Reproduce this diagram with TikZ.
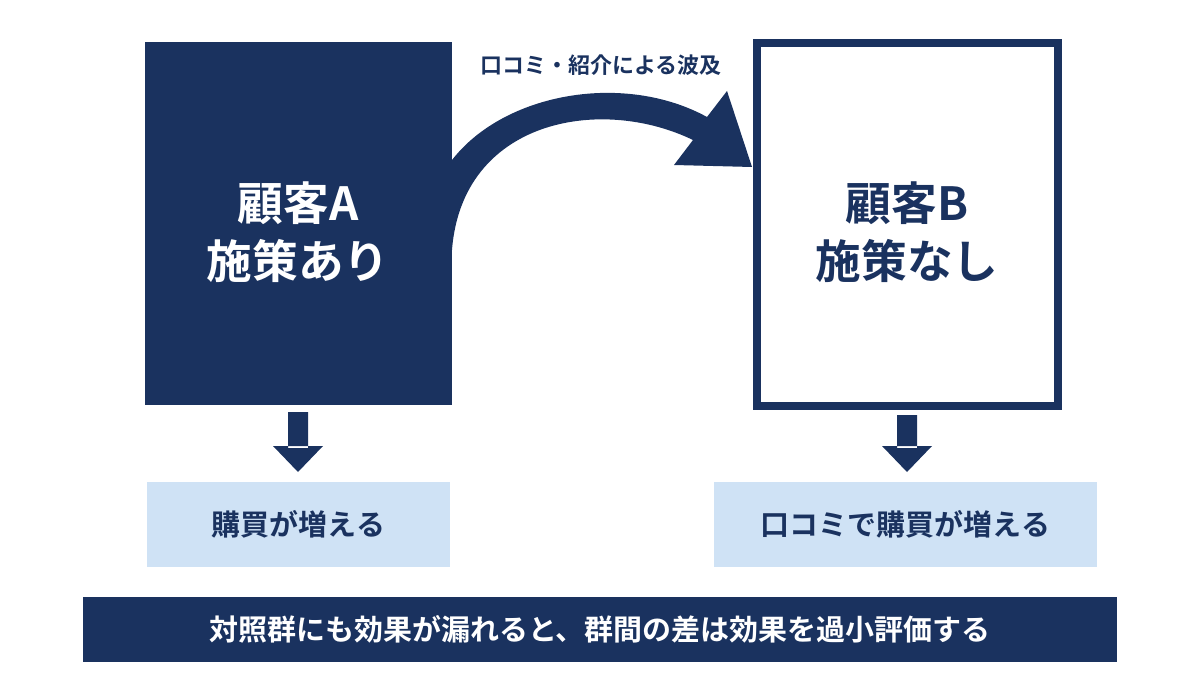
\documentclass[tikz,border=0pt]{standalone}
\usepackage{fontspec}
\setmainfont{Noto Sans CJK JP}[BoldFont={Noto Sans CJK JP Bold}]
\definecolor{navy}{HTML}{1A325F}
\definecolor{lblue}{HTML}{CFE2F5}
\begin{document}
\begin{tikzpicture}[x=0.02cm,y=-0.02cm,
  big/.style={font=\bfseries\fontsize{26}{33}\selectfont,align=center},
  mid/.style={font=\bfseries\fontsize{16.5}{20}\selectfont},
  down/.style={fill=navy}]
\useasboundingbox (0,0) rectangle (1200,675);
\fill[navy] (145,42) rectangle (452,405);
\node[big,text=white] (a) at (298,232) {顧客A\\施策あり};
\draw[navy,line width=0.16cm] (757,43) rectangle (1058,406);
\node[big,text=navy] (b) at (907,232) {顧客B\\施策なし};
\fill[navy] (452,160) .. controls (505,92) and (625,72) .. (707,117) -- (727,91) -- (752,167) -- (674,165) -- (693,140) .. controls (600,95) and (462,120) .. (452,250) -- cycle;
\node[font=\bfseries\fontsize{12.5}{15}\selectfont,text=navy] (w) at (601,65) {口コミ・紹介による波及};
\fill[navy] (288,412) rectangle (308,448) (273,446) -- (323,446) -- (298,472) -- cycle;
\fill[navy] (897,415) rectangle (917,448) (882,446) -- (932,446) -- (907,472) -- cycle;
\node[fill=lblue,minimum width=0.02cm*303,minimum height=0.02cm*85,mid,text=navy] (ra) at (298.5,524.5) {購買が増える};
\node[fill=lblue,minimum width=0.02cm*383,minimum height=0.02cm*85,mid,text=navy] (rb) at (905.5,524.5) {口コミで購買が増える};
\node[fill=navy,minimum width=0.02cm*1034,minimum height=0.02cm*65,mid,text=white] (s) at (600,629.5) {対照群にも効果が漏れると、群間の差は効果を過小評価する};
\end{tikzpicture}
\end{document}
